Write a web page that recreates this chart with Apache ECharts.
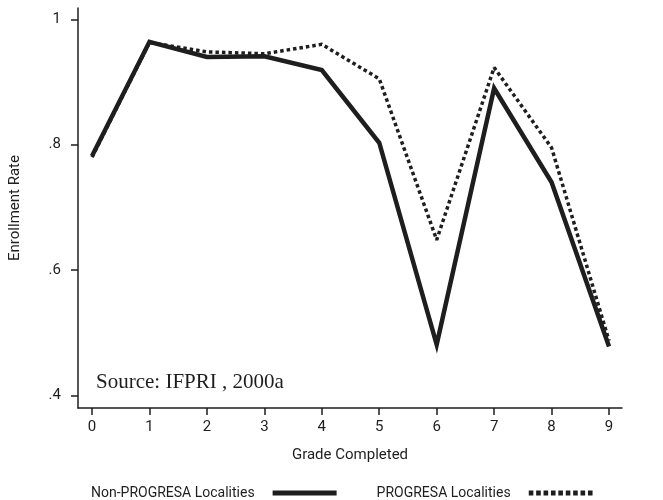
<!DOCTYPE html>
<html>
<head>
<meta charset="utf-8">
<script src="https://cdn.jsdelivr.net/npm/echarts@6/dist/echarts.min.js"></script>
<style>
  html, body { margin: 0; padding: 0; background: #fff; }
  #chart { width: 663px; height: 500px; }
</style>
</head>
<body>
<div id="chart"></div>
<script>
// 入学率折线图

const grades = [0, 1, 2, 3, 4, 5, 6, 7, 8, 9];
const nonProgresa = [0.782, 0.964, 0.940, 0.941, 0.919, 0.803, 0.481, 0.890, 0.740, 0.478];
const progresa = [0.780, 0.963, 0.948, 0.945, 0.960, 0.905, 0.648, 0.923, 0.795, 0.487];
const yTicks = [0.4, 0.6, 0.8, 1];
const seriesNames = ['Non-PROGRESA Localities', 'PROGRESA Localities'];

(function () {
  let myChart = echarts.init(document.getElementById('chart'));

  const ink = '#1e1e1e';
  const sans = 'Roboto, "Noto Sans", sans-serif';

  // 图例样式：实线 / 方点虚线
  let dotPath = '';
  for (let i = 0; i < 9; i++) {
    dotPath += 'M' + (i * 7.4) + ',0h4.6v5h-4.6z';
  }

  let option = {
    animation: false,
    backgroundColor: '#fff',
    grid: { left: 78, right: 41, top: 8, bottom: 92, outerBoundsMode: 'none', containLabel: false },
    legend: {
      data: [
        { name: seriesNames[0], icon: 'path://M0,0h64v5h-64z' },
        { name: seriesNames[1], icon: 'path://' + dotPath }
      ],
      left: 86,
      top: 481,
      align: 'right',
      itemWidth: 64,
      itemHeight: 5,
      itemGap: 40,
      itemStyle: { color: ink, borderWidth: 0 },
      lineStyle: { width: 0 },
      textStyle: { fontFamily: sans, fontSize: 14, color: ink, padding: [0, 13, 0, 0] }
    },
    xAxis: {
      type: 'value',
      min: -0.244,
      max: 9.226,
      name: 'Grade Completed',
      nameLocation: 'middle',
      nameGap: 40,
      nameTextStyle: { fontFamily: sans, fontSize: 15, color: ink },
      splitLine: { show: false },
      axisLine: { onZero: false, lineStyle: { color: ink, width: 1.5 } },
      axisTick: { customValues: grades, length: 7, lineStyle: { color: ink, width: 1.5 } },
      axisLabel: {
        customValues: grades,
        margin: 12,
        fontFamily: sans, fontSize: 15, color: ink
      }
    },
    yAxis: {
      type: 'value',
      min: 0.3797,
      max: 1.018,
      name: 'Enrollment Rate',
      nameLocation: 'middle',
      nameGap: 55,
      nameRotate: 90,
      nameTextStyle: { fontFamily: sans, fontSize: 15, color: ink },
      splitLine: { show: false },
      axisLine: { show: true, onZero: false, lineStyle: { color: ink, width: 1.5 } },
      axisTick: { show: true, customValues: yTicks, length: 7, lineStyle: { color: ink, width: 1.5 } },
      axisLabel: {
        customValues: yTicks,
        margin: 17,
        fontFamily: sans, fontSize: 15, color: ink,
        formatter: function (v) {
          return v >= 1 ? '1' : String(v).replace('0.', '.');
        }
      }
    },
    graphic: [
      {
        type: 'text',
        left: 96,
        top: 372,
        style: {
          text: 'Source: IFPRI , 2000a',
          font: '21px "Liberation Serif", "DejaVu Serif", serif',
          fill: ink
        }
      }
    ],
    series: [
      {
        name: seriesNames[0],
        type: 'line',
        symbol: 'none',
        data: grades.map((g, i) => [g, nonProgresa[i]]),
        lineStyle: { color: ink, width: 4.5, join: 'miter' },
        itemStyle: { color: ink },
        z: 3
      },
      {
        name: seriesNames[1],
        type: 'line',
        symbol: 'none',
        data: grades.map((g, i) => [g, progresa[i]]),
        lineStyle: { color: ink, width: 3.5, type: [3.5, 3], cap: 'butt' },
        itemStyle: { color: ink },
        z: 2
      }
    ]
  };

  myChart.setOption(option);
})();
</script>
</body>
</html>
